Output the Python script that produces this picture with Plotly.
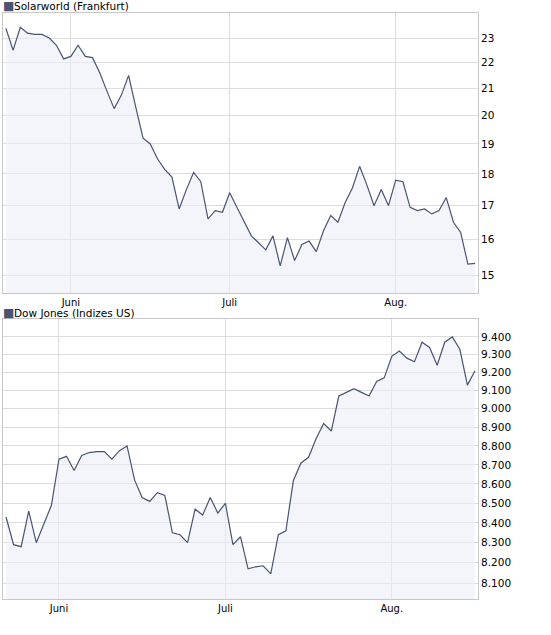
import pandas as pd
import plotly.graph_objects as go

solar_values = [23.4, 22.5, 23.45, 23.2, 23.15, 23.15, 23.0, 22.7, 22.15, 22.25,
                22.7, 22.25, 22.2, 21.6, 20.9, 20.25, 20.75, 21.5, 20.3, 19.2,
                19.0, 18.5, 18.15, 17.9, 16.9, 17.5, 18.05, 17.75, 16.6, 16.85,
                16.8, 17.4, 16.95, 16.5, 16.1, 15.9, 15.7, 16.1, 15.25, 16.05,
                15.4, 15.85, 15.95, 15.65, 16.25, 16.7, 16.5, 17.1, 17.55, 18.25,
                17.65, 17.0, 17.5, 17.0, 17.8, 17.75, 16.95, 16.85, 16.9, 16.75,
                16.85, 17.25, 16.5, 16.2, 15.3, 15.32]
dow_values = [8430, 8290, 8280, 8460, 8300, 8390, 8490, 8730, 8745, 8670,
              8750, 8765, 8770, 8770, 8730, 8775, 8800, 8620, 8530, 8510,
              8555, 8540, 8350, 8340, 8300, 8470, 8440, 8530, 8450, 8500,
              8290, 8330, 8170, 8180, 8185, 8145, 8340, 8360, 8620, 8710,
              8740, 8840, 8920, 8880, 9070, 9090, 9110, 9090, 9070, 9150,
              9170, 9290, 9320, 9280, 9260, 9370, 9340, 9240, 9370, 9400,
              9330, 9130, 9210]

solar_dates = pd.bdate_range("2009-05-19", periods=len(solar_values))
dow_dates = pd.bdate_range("2009-05-20", periods=len(dow_values), freq="C",
                           holidays=["2009-05-25", "2009-07-03"])
month_names = {6: "Juni", 7: "Juli", 8: "Aug."}

solar_ticks = [15, 16, 17, 18, 19, 20, 21, 22, 23]
dow_ticks = [8100, 8200, 8300, 8400, 8500, 8600, 8700, 8800, 8900, 9000, 9100, 9200, 9300, 9400]


def month_starts(dates):
    labels = [d.strftime("%Y-%m-%d") for d in dates]
    vals, texts = [], []
    for i, d in enumerate(dates):
        if d.month in month_names and (i == 0 or dates[i - 1].month != d.month):
            vals.append(labels[i])
            texts.append(month_names[d.month])
    return labels, vals, texts


line_col = "#4a5472"
fill_col = "rgba(235,238,248,0.6)"
grid_col = "#dcdcdc"
font = dict(family="DejaVu Sans", size=10.5, color="#000000")
xfont = dict(family="DejaVu Sans", size=10, color="#000000")

fig = go.Figure()
for values, dates, ax in [(solar_values, solar_dates, ""), (dow_values, dow_dates, "2")]:
    labels, tv, tt = month_starts(dates)
    fig.add_trace(go.Scatter(x=labels, y=values, mode="lines", fill="tozeroy",
                             fillcolor=fill_col, line=dict(color=line_col, width=1.2),
                             xaxis="x" + ax, yaxis="y" + ax, hoverinfo="skip"))
    fig.update_layout(**{
        "xaxis" + ax: dict(type="category", tickvals=tv, ticktext=tt,
                           range=[-0.4, len(values) - 0.6], showgrid=True,
                           gridcolor=grid_col, showline=True, linecolor="#c8c8c8",
                           mirror=True, ticks="", ticklen=0, anchor="y" + ax,
                           tickfont=xfont, automargin=False),
    })

fig.update_layout(
    width=551, height=635,
    margin=dict(l=3, r=73, t=13, b=36),
    paper_bgcolor="white", plot_bgcolor="white",
    showlegend=False,
    yaxis=dict(type="log", side="right", domain=[0.522, 1.0], range=[1.1620, 1.3813],
               tickvals=solar_ticks, ticktext=[str(v) for v in solar_ticks],
               gridcolor=grid_col, showline=True, linecolor="#c8c8c8", mirror=True,
               tickfont=font, zeroline=False, automargin=False),
    yaxis2=dict(type="log", side="right", domain=[0.0, 0.478], range=[3.90429, 3.97786],
                tickvals=dow_ticks, ticktext=[f"{v:,}".replace(",", ".") for v in dow_ticks],
                gridcolor=grid_col, showline=True, linecolor="#c8c8c8", mirror=True,
                tickfont=font, zeroline=False, automargin=False),
)

for title, ypx in [("Solarworld (Frankfurt)", 6), ("Dow Jones (Indizes US)", 313)]:
    yp = 1 - (ypx - 13) / 586
    fig.add_annotation(text="■", x=0.0, xref="paper", y=yp, yref="paper", xanchor="left",
                       yanchor="middle", xshift=-2, showarrow=False,
                       font=dict(family="DejaVu Sans", size=12, color="#4a5472"))
    fig.add_annotation(text=title, x=0.0, xref="paper", y=yp, yref="paper", xanchor="left",
                       yanchor="middle", xshift=9, showarrow=False, font=font)

fig.write_html("out.html", config={"displayModeBar": False},
               post_script="document.body.style.margin='0';")
